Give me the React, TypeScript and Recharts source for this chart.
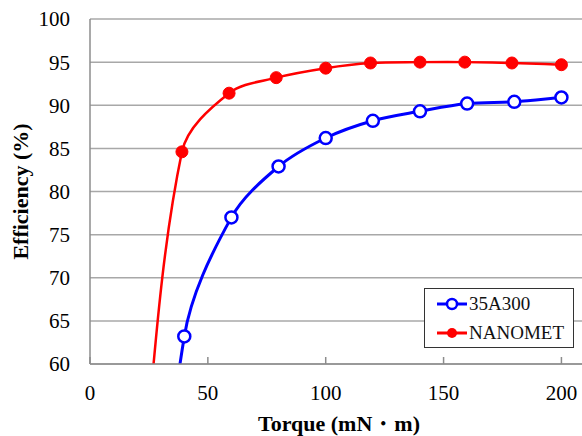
import { LineChart, Line, XAxis, YAxis, CartesianGrid, Legend, ReferenceLine } from "recharts"

// measured points (first point of each series sits below the 60% floor)
const torque35A300 = [20, 40, 60, 80, 100, 120, 140, 160, 180, 200]
const eff35A300 = [10, 63.2, 77.0, 82.9, 86.2, 88.2, 89.3, 90.2, 90.4, 90.9]
const torqueNanomet = [20, 39, 59, 79, 100, 119, 140, 159, 179, 200]
const effNanomet = [40, 84.6, 91.4, 93.2, 94.3, 94.9, 95.0, 95.0, 94.9, 94.7]

const xLabelTicks = [0, 50, 100, 150, 200]
const xMinorTicks = [0, 10, 20, 30, 40, 50, 60, 70, 80, 90, 100, 110, 120, 130, 140, 150, 160, 170, 180, 190, 200]
const yTicks = [60, 65, 70, 75, 80, 85, 90, 95, 100]

const data35A300 = torque35A300.map((x, i) => ({ x, y: eff35A300[i] }))
const dataNanomet = torqueNanomet.map((x, i) => ({ x, y: effNanomet[i] }))

const SERIF = "Liberation Serif"

// smoothed line like Excel's: tangent along the neighbours, length scaled by chord lengths
function excelCurve(context: any) {
  let pts: number[][] = []
  const dist = (a: number[], b: number[]) => Math.hypot(b[0] - a[0], b[1] - a[1])
  return {
    areaStart() {},
    areaEnd() {},
    lineStart() {
      pts = []
    },
    point(x: number, y: number) {
      pts.push([+x, +y])
    },
    lineEnd() {
      const n = pts.length
      if (!n) return
      context.moveTo(pts[0][0], pts[0][1])
      for (let i = 0; i < n - 1; i++) {
        const p0 = pts[Math.max(0, i - 1)]
        const p1 = pts[i]
        const p2 = pts[i + 1]
        const p3 = pts[Math.min(n - 1, i + 2)]
        const d01 = dist(p0, p1)
        const d12 = dist(p1, p2)
        const d23 = dist(p2, p3)
        const f1 = d12 / (d01 + d12 || 1) / 3
        const f2 = d12 / (d12 + d23 || 1) / 3
        context.bezierCurveTo(
          p1[0] + (p2[0] - p0[0]) * f1,
          p1[1] + (p2[1] - p0[1]) * f1,
          p2[0] - (p3[0] - p1[0]) * f2,
          p2[1] - (p3[1] - p1[1]) * f2,
          p2[0],
          p2[1]
        )
      }
    },
  }
}

const XTick = (props: any) => {
  const { x, y, payload } = props
  return (
    <text x={x} y={y} textAnchor="middle" fontFamily={SERIF} fontSize={21} fill="#000">
      {payload.value}
    </text>
  )
}

const renderLegend = () => (
  <div
    style={{
      width: 150,
      height: 60,
      boxSizing: "border-box",
      border: "1.5px solid #333",
      background: "#fff",
      fontFamily: SERIF,
      fontSize: 19,
      color: "#111",
    }}
  >
    <div style={{ display: "flex", alignItems: "center", height: 29, paddingLeft: 12 }}>
      <svg width={30} height={14} style={{ marginRight: 2 }}>
        <line x1={0} y1={7} x2={30} y2={7} stroke="#0000ff" strokeWidth={3} />
        <circle cx={15} cy={7} r={5} fill="#fff" stroke="#0000ff" strokeWidth={2.5} />
      </svg>
      <span>35A300</span>
    </div>
    <div style={{ display: "flex", alignItems: "center", height: 29, paddingLeft: 12 }}>
      <svg width={30} height={14} style={{ marginRight: 2 }}>
        <line x1={0} y1={7} x2={30} y2={7} stroke="#ff0000" strokeWidth={3} />
        <circle cx={15} cy={7} r={5} fill="#ff0000" />
      </svg>
      <span>NANOMET</span>
    </div>
  </div>
)

export default function App() {
  return (
    <div style={{ position: "absolute", left: 0, top: 0, width: 582, height: 436, background: "#fff" }}>
      <LineChart width={582} height={436} margin={{ top: 19, right: -3, bottom: 0, left: 0 }}>
        <CartesianGrid vertical={false} stroke="#a8a8a8" strokeWidth={1.5} />
        <ReferenceLine y={100} stroke="#5a5a5a" strokeWidth={2} />
        <XAxis
          xAxisId="minor"
          type="number"
          dataKey="x"
          domain={[0, 210]}
          ticks={xMinorTicks}
          tick={false}
          tickSize={-4}
          height={0}
          axisLine={false}
          tickLine={{ stroke: "#8c8c8c", strokeWidth: 1.5 }}
        />
        <XAxis
          xAxisId="main"
          type="number"
          dataKey="x"
          domain={[0, 210]}
          ticks={xLabelTicks}
          tick={<XTick />}
          tickSize={-7}
          tickMargin={43}
          height={72}
          axisLine={{ stroke: "#8c8c8c", strokeWidth: 1.5 }}
          tickLine={{ stroke: "#8c8c8c", strokeWidth: 1.5 }}
          label={() => (
            <text x={339} y={431} textAnchor="middle" fontFamily={SERIF} fontSize={22} fontWeight="bold" fill="#000">
              Torque (mN・m)
            </text>
          )}
        />
        <YAxis
          type="number"
          dataKey="y"
          domain={[60, 100]}
          allowDataOverflow
          ticks={yTicks}
          width={90}
          tickLine={false}
          tickSize={0}
          tickMargin={20}
          axisLine={{ stroke: "#8c8c8c", strokeWidth: 1.5 }}
          tick={{ fontFamily: SERIF, fontSize: 21, fill: "#000" }}
          label={() => (
            <text
              x={28}
              y={191.5}
              transform="rotate(-90 28 191.5)"
              textAnchor="middle"
              fontFamily={SERIF}
              fontSize={22}
              fontWeight="bold"
              fill="#000"
            >
              Efficiency (%)
            </text>
          )}
        />
        <Legend
          layout="vertical"
          align="center"
          verticalAlign="middle"
          content={renderLegend}
          wrapperStyle={{ left: 424, top: 288, width: 150, height: 60 }}
        />
        <Line
          name="35A300"
          xAxisId="main"
          data={data35A300}
          dataKey="y"
          type={excelCurve as any}
          stroke="#0000ff"
          strokeWidth={3}
          dot={{ r: 6, fill: "#fff", stroke: "#0000ff", strokeWidth: 2.5 }}
          activeDot={false}
          isAnimationActive={false}
        />
        <Line
          name="NANOMET"
          xAxisId="main"
          data={dataNanomet}
          dataKey="y"
          type={excelCurve as any}
          stroke="#ff0000"
          strokeWidth={2.5}
          dot={{ r: 6, fill: "#ff0000", stroke: "#ff0000", strokeWidth: 1 }}
          activeDot={false}
          isAnimationActive={false}
        />
      </LineChart>
    </div>
  )
}
